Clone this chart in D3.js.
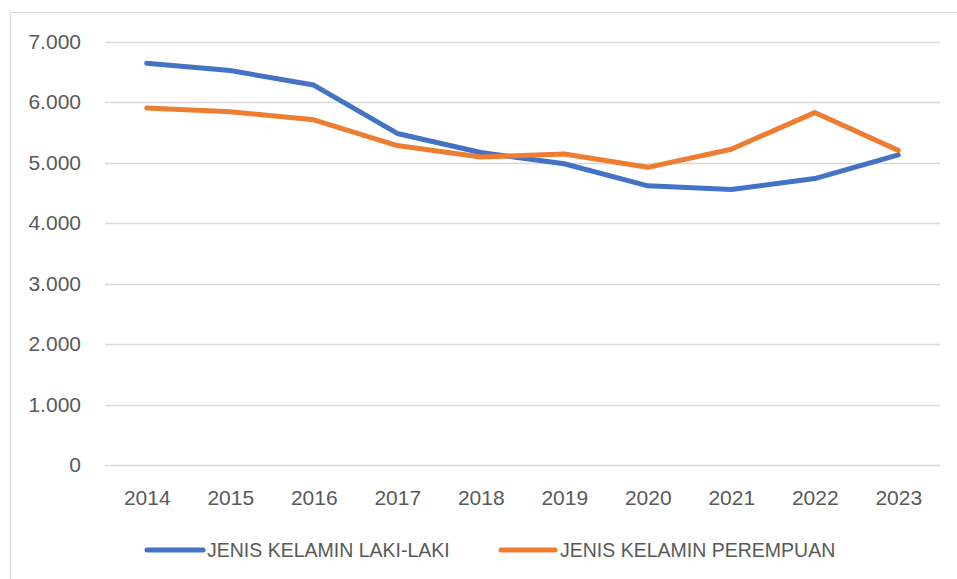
<!DOCTYPE html>
<html>
<head>
<meta charset="utf-8">
<script src="https://cdn.jsdelivr.net/npm/d3@7"></script>
<style>
  html, body { margin: 0; padding: 0; background: #ffffff; }
  svg { display: block; }
  text { font-family: "Liberation Sans", Arial, sans-serif; fill: #595959; }
</style>
</head>
<body>
<svg id="chart" width="957" height="579"></svg>
<script>
const years = ["2014","2015","2016","2017","2018","2019","2020","2021","2022","2023"];
const lakiLaki = [6640, 6520, 6280, 5480, 5165, 4980, 4615, 4555, 4735, 5125];
const perempuan = [5900, 5840, 5705, 5280, 5090, 5140, 4920, 5220, 5825, 5200];
const yTicks = [0, 1000, 2000, 3000, 4000, 5000, 6000, 7000];
const seriesNames = ["JENIS KELAMIN LAKI-LAKI", "JENIS KELAMIN PEREMPUAN"];
const seriesColors = ["#4472C4", "#ED7D31"];

const svg = d3.select("#chart");
const plot = { left: 105, right: 940, top: 41.5, bottom: 465 };

// chart border
svg.append("rect")
  .attr("x", 10.5).attr("y", 12.5)
  .attr("width", 1000).attr("height", 1000)
  .attr("fill", "none").attr("stroke", "#D9D9D9").attr("stroke-width", 1);

const x = d3.scalePoint().domain(years).range([plot.left, plot.right]).padding(0.5);
const y = d3.scaleLinear().domain([0, 7000]).range([plot.bottom, plot.top]);

const fmt = v => d3.format(",")(v).replace(/,/g, ".");

// gridlines
svg.append("g")
  .selectAll("line")
  .data(yTicks)
  .join("line")
  .attr("x1", plot.left).attr("x2", plot.right)
  .attr("y1", d => Math.round(y(d)) + 0.5).attr("y2", d => Math.round(y(d)) + 0.5)
  .attr("stroke", "#D9D9D9").attr("stroke-width", 1.3);

// y axis labels
const yAxis = d3.axisLeft(y).tickValues(yTicks).tickFormat(fmt).tickSize(0).tickPadding(0);
const gy = svg.append("g").attr("transform", `translate(81,0)`).call(yAxis);
gy.select(".domain").remove();
gy.selectAll("text").attr("font-size", 21).attr("fill", "#595959")
  .attr("font-family", '"Liberation Sans", Arial, sans-serif');

// x axis labels
const xAxis = d3.axisBottom(x).tickSize(0).tickPadding(0);
const gx = svg.append("g").attr("transform", `translate(0,${plot.bottom})`).call(xAxis);
gx.select(".domain").remove();
gx.selectAll("text").attr("font-size", 21).attr("fill", "#595959")
  .attr("font-family", '"Liberation Sans", Arial, sans-serif')
  .attr("dy", null).attr("y", 40);

// lines
const line = d3.line().x((d, i) => x(years[i])).y(d => y(d));
[lakiLaki, perempuan].forEach((s, k) => {
  svg.append("path")
    .datum(s)
    .attr("d", line)
    .attr("fill", "none")
    .attr("stroke", seriesColors[k])
    .attr("stroke-width", 5)
    .attr("stroke-linejoin", "round")
    .attr("stroke-linecap", "round");
});

// legend
const legendItems = [
  { x1: 147, x2: 203, tx: 207 },
  { x1: 501, x2: 555, tx: 560 }
];
const lg = svg.append("g");
legendItems.forEach((it, k) => {
  lg.append("line")
    .attr("x1", it.x1).attr("x2", it.x2).attr("y1", 550).attr("y2", 550)
    .attr("stroke", seriesColors[k]).attr("stroke-width", 5).attr("stroke-linecap", "round");
  lg.append("text")
    .attr("x", it.tx).attr("y", 557)
    .attr("font-size", 19.5)
    .text(seriesNames[k]);
});
</script>
</body>
</html>
